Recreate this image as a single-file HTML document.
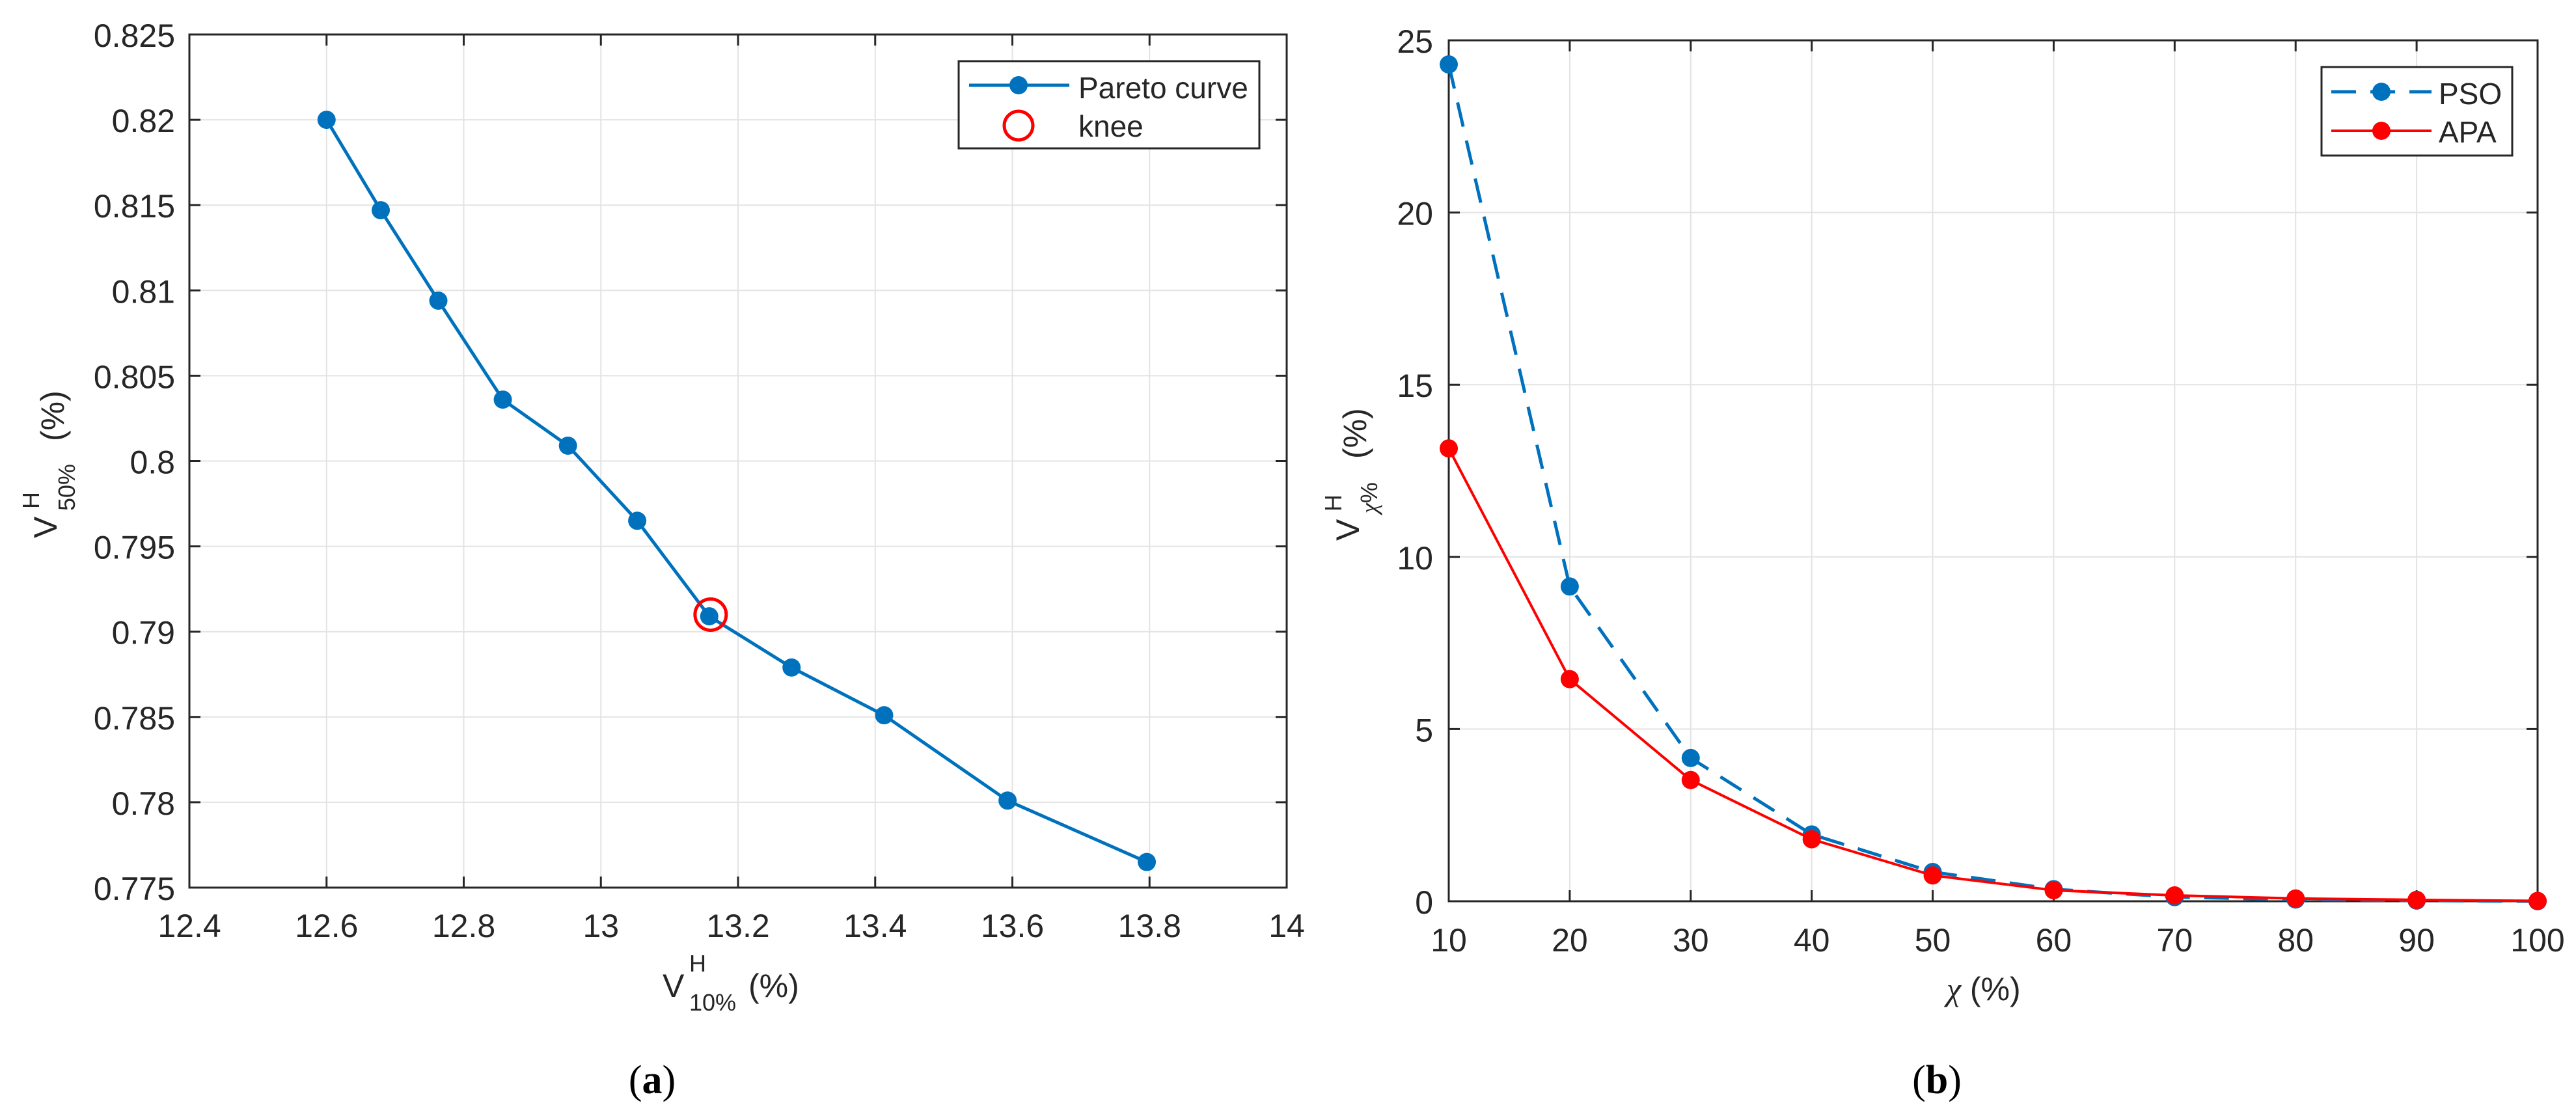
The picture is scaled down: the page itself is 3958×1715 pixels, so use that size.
<!DOCTYPE html>
<html><head><meta charset="utf-8"><style>
html,body{margin:0;padding:0;background:#fff}
svg{display:block}
text{font-family:"Liberation Sans",Arial,sans-serif;fill:#262626}
</style></head><body>
<svg id="fig" xmlns="http://www.w3.org/2000/svg" width="3958" height="1715" viewBox="0 0 3958 1715">
<g id="gA"></g>
<g id="gB"></g>
<g>
 <text transform="rotate(-90 87 827)" x="87" y="827" font-size="50">V</text>
 <text transform="rotate(-90 60 782)" x="60" y="782" font-size="36">H</text>
 <text transform="rotate(-90 115 785)" x="115" y="785" font-size="36">50%</text>
 <text transform="rotate(-90 98 678)" x="98" y="678" font-size="50">(%)</text>
 <text x="1018" y="1532" font-size="50">V</text>
 <text x="1059" y="1493" font-size="36">H</text>
 <text x="1059" y="1553" font-size="36">10%</text>
 <text x="1150" y="1532" font-size="50">(%)</text>
 <text x="1002" y="1680" font-size="62" text-anchor="middle" style="font-family:'Liberation Serif',serif;fill:#000">(<tspan font-weight="bold">a</tspan>)</text>
</g>
<g>
 <text transform="rotate(-90 2088 831)" x="2088" y="831" font-size="50">V</text>
 <text transform="rotate(-90 2061 786)" x="2061" y="786" font-size="36">H</text>
 <text transform="rotate(-90 2116 789)" x="2116" y="789" font-size="36"><tspan style="font-family:'Liberation Serif',serif;font-style:italic">χ</tspan>%</text>
 <text transform="rotate(-90 2099 705)" x="2099" y="705" font-size="50">(%)</text>
 <text x="2991" y="1537" font-size="50"><tspan style="font-family:'Liberation Serif',serif;font-style:italic">χ</tspan> (%)</text>
 <text x="2976" y="1680" font-size="62" text-anchor="middle" style="font-family:'Liberation Serif',serif;fill:#000">(<tspan font-weight="bold">b</tspan>)</text>
</g>
</svg>
<script>
// Chart A data
const aX = [12.6,12.679,12.763,12.857,12.952,13.053,13.158,13.278,13.413,13.593,13.796];
const aY = [0.820,0.8147,0.8094,0.8036,0.8009,0.7965,0.7909,0.7879,0.7851,0.7801,0.7765];
const kneeX = [13.16];
const kneeY = [0.791];
const aXTicks = [12.4,12.6,12.8,13,13.2,13.4,13.6,13.8,14];
const aYTicks = [0.775,0.78,0.785,0.79,0.795,0.8,0.805,0.81,0.815,0.82,0.825];
// Chart B data
const bX = [10,20,30,40,50,60,70,80,90,100];
const pso = [24.3,9.14,4.16,1.94,0.85,0.35,0.12,0.05,0.02,0.0];
const apa = [13.15,6.45,3.52,1.8,0.75,0.32,0.17,0.08,0.04,0.01];
const bXTicks = [10,20,30,40,50,60,70,80,90,100];
const bYTicks = [0,5,10,15,20,25];

const NS='http://www.w3.org/2000/svg';
function mk(parent,tag,attrs){const e=document.createElementNS(NS,tag);for(const k in attrs)e.setAttribute(k,attrs[k]);parent.appendChild(e);return e;}

function axes(g,L,R,T,B,xmin,xmax,ymin,ymax,xt,yt,xLabY,yLabX,fmt){
  const sx=v=>L+(v-xmin)/(xmax-xmin)*(R-L);
  const sy=v=>B-(v-ymin)/(ymax-ymin)*(B-T);
  xt.forEach(v=>{
    const l=mk(g,'line',{x1:sx(v),x2:sx(v),y1:T,y2:B,stroke:'#e3e3e3','stroke-width':2});
    
    
    mk(g,'line',{x1:sx(v),x2:sx(v),y1:B,y2:B-17,stroke:'#262626','stroke-width':3});
    mk(g,'line',{x1:sx(v),x2:sx(v),y1:T,y2:T+17,stroke:'#262626','stroke-width':3});
    const t=mk(g,'text',{x:sx(v),y:xLabY,'font-size':50,'text-anchor':'middle'});
    t.textContent=fmt?fmt(v):String(v);
    
    
  });
  yt.forEach(v=>{
    const l=mk(g,'line',{x1:L,x2:R,y1:sy(v),y2:sy(v),stroke:'#e3e3e3','stroke-width':2});
    
    
    mk(g,'line',{x1:L,x2:L+17,y1:sy(v),y2:sy(v),stroke:'#262626','stroke-width':3});
    mk(g,'line',{x1:R,x2:R-17,y1:sy(v),y2:sy(v),stroke:'#262626','stroke-width':3});
    const t=mk(g,'text',{x:yLabX,y:sy(v)+19,'font-size':50,'text-anchor':'end'});
    t.textContent=String(v);
    
    
  });
  const f=mk(g,'rect',{x:L,y:T,width:R-L,height:B-T,fill:'none',stroke:'#262626','stroke-width':3});
  
  
  return {sx,sy};
}

// Chart A
const gA=document.getElementById('gA');
const A=axes(gA,291,1977,53,1364,12.4,14,0.775,0.825,aXTicks,aYTicks,1440,269);
const pa=mk(gA,'polyline',{points:aX.map((x,i)=>A.sx(x)+','+A.sy(aY[i])).join(' '),fill:'none',stroke:'#0072BD','stroke-width':5});


aX.forEach((x,i)=>{
  const c=mk(gA,'circle',{cx:A.sx(x),cy:A.sy(aY[i]),r:14,fill:'#0072BD'});
  
  
});
const kn=mk(gA,'circle',{cx:A.sx(kneeX[0]),cy:A.sy(kneeY[0]),r:24,fill:'none',stroke:'#FF0000','stroke-width':5});


const lgA=mk(gA,'g',{});


mk(lgA,'rect',{x:1473,y:94,width:462,height:134,fill:'#fff',stroke:'#262626','stroke-width':3});
mk(lgA,'line',{x1:1489,x2:1643,y1:131,y2:131,stroke:'#0072BD','stroke-width':5});
mk(lgA,'circle',{cx:1565,cy:131,r:14,fill:'#0072BD'});
mk(lgA,'circle',{cx:1565,cy:193,r:22,fill:'none',stroke:'#FF0000','stroke-width':5});
const la1=mk(lgA,'text',{x:1657,y:151,'font-size':46,fill:'#000'});la1.textContent='Pareto curve';


const la2=mk(lgA,'text',{x:1657,y:210,'font-size':46,fill:'#000'});la2.textContent='knee';



// Chart B
const gB=document.getElementById('gB');
const B=axes(gB,2226,3899,62,1385,10,100,0,25,bXTicks,bYTicks,1462,2202);
const pl=mk(gB,'polyline',{points:bX.map((x,i)=>B.sx(x)+','+B.sy(pso[i])).join(' '),fill:'none',stroke:'#0072BD','stroke-width':5,'stroke-dasharray':'38 22'});


bX.forEach((x,i)=>{
  const c=mk(gB,'circle',{cx:B.sx(x),cy:B.sy(pso[i]),r:14,fill:'#0072BD'});
  
  
});
const al=mk(gB,'polyline',{points:bX.map((x,i)=>B.sx(x)+','+B.sy(apa[i])).join(' '),fill:'none',stroke:'#FF0000','stroke-width':4});


bX.forEach((x,i)=>{
  const c=mk(gB,'circle',{cx:B.sx(x),cy:B.sy(apa[i]),r:14,fill:'#FF0000'});
  
  
});
const lgB=mk(gB,'g',{});


mk(lgB,'rect',{x:3567,y:103,width:293,height:136,fill:'#fff',stroke:'#262626','stroke-width':3});
mk(lgB,'line',{x1:3582,x2:3736,y1:141,y2:141,stroke:'#0072BD','stroke-width':5,'stroke-dasharray':'38 22'});
mk(lgB,'circle',{cx:3659,cy:141,r:14,fill:'#0072BD'});
mk(lgB,'line',{x1:3582,x2:3736,y1:201,y2:201,stroke:'#FF0000','stroke-width':4});
mk(lgB,'circle',{cx:3659,cy:201,r:14,fill:'#FF0000'});
const lb1=mk(lgB,'text',{x:3747,y:160,'font-size':46,fill:'#000'});lb1.textContent='PSO';


const lb2=mk(lgB,'text',{x:3747,y:219,'font-size':46,fill:'#000'});lb2.textContent='APA';


</script>
</body></html>
